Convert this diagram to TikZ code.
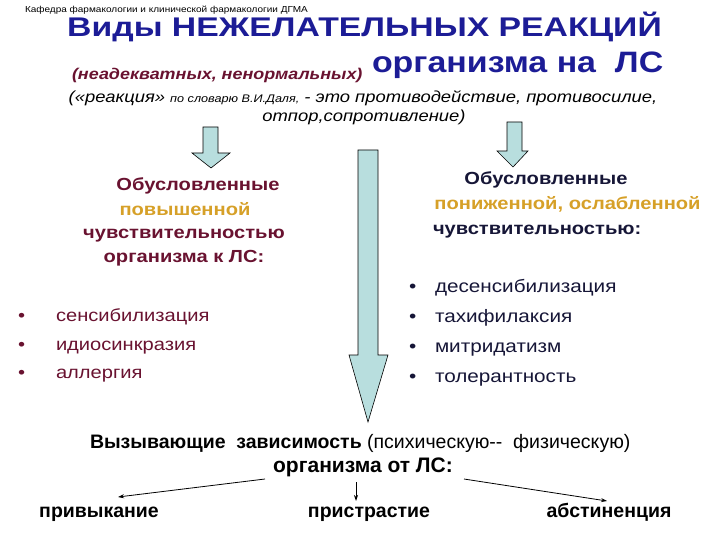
\documentclass[tikz,border=0pt]{standalone}
\usepackage{fontspec}
\setmainfont[FakeStretch=1.15]{Liberation Sans}
\newfontfamily\plainfont{Liberation Sans}
\newfontfamily\titlefont[FakeStretch=1.25]{Liberation Sans}
\definecolor{titleblue}{RGB}{28,28,150}
\definecolor{maroon}{RGB}{105,18,48}
\definecolor{gold}{RGB}{214,160,40}
\definecolor{navy}{RGB}{22,22,55}
\definecolor{arrowfill}{RGB}{184,222,222}
\usetikzlibrary{arrows.meta}
\tikzset{
  bigarrow/.style={draw=black, line width=0.6pt, fill=arrowfill, line join=miter},
  txt/.style={inner sep=0pt, outer sep=0pt, anchor=base},
  lhead/.style={txt, font=\bfseries\fontsize{17.5}{20}\selectfont, text=maroon},
  rhead/.style={txt, font=\bfseries\fontsize{17.5}{20}\selectfont, text=navy},
  lbul/.style={txt, anchor=base west, font=\fontsize{17.5}{20}\selectfont, text=maroon},
  rbul/.style={txt, anchor=base west, font=\fontsize{18}{20}\selectfont, text=navy},
  bottom/.style={txt, font=\plainfont\bfseries\fontsize{19.5}{22}\selectfont, text=black},
  conn/.style={-{Stealth[length=6pt,width=4pt]}, line width=0.8pt}
}
\begin{document}
\begin{tikzpicture}[x=1pt,y=-1pt]
\useasboundingbox (0,0) rectangle (720,540);
% header
\node[txt, anchor=base west, font=\fontsize{8.7}{10}\selectfont] (hdr) at (25,12.5) {Кафедра фармакологии и клинической фармакологии ДГМА};
% title
\node[txt, font=\titlefont\bfseries\fontsize{27}{30}\selectfont, text=titleblue] (title) at (364.5,37) {Виды НЕЖЕЛАТЕЛЬНЫХ РЕАКЦИЙ};
\node[txt, anchor=base west, font=\bfseries\itshape\fontsize{15.6}{18}\selectfont, text=maroon] (sub) at (72,79.5) {(неадекватных, ненормальных)};
\node[txt, anchor=base west, font=\bfseries\fontsize{29.5}{32}\selectfont, text=titleblue] (org) at (372,72.5) {организма на\ \ ЛС};
\node[txt, font=\itshape\fontsize{16}{19}\selectfont] (def1) at (363,103) {(«реакция» {\fontsize{11}{13}\selectfont по словарю В.И.Даля,} - это противодействие, противосилие,};
\node[txt, font=\itshape\fontsize{16}{19}\selectfont] (def2) at (364,122) {отпор,сопротивление)};
% arrows
\draw[bigarrow] (203,127) -- (218,127) -- (218,153) -- (230,153) -- (211,168) -- (192,153) -- (203,153) -- cycle;
\draw[bigarrow] (507,122) -- (522,122) -- (522,151) -- (528,151) -- (513,167) -- (497,151) -- (507,151) -- cycle;
\draw[bigarrow] (358,150) -- (378,150) -- (378,355) -- (388,355) -- (368,422) -- (349,355) -- (358,355) -- cycle;
% left block
\node[lhead] (l1) at (198,191) {Обусловленные};
\node[lhead, text=gold] (l2) at (185,215) {повышенной};
\node[lhead] (l3) at (184,238) {чувствительностью};
\node[lhead] (l4) at (184,262) {организма к ЛС:};
% right block
\node[rhead] (r1) at (546,185) {Обусловленные};
\node[rhead, text=gold] (r2) at (567.5,210) {пониженной, ослабленной};
\node[rhead, anchor=base west] (r3) at (433,235) {чувствительностью:};
% left bullets
\node[lbul] (b1) at (18,321) {•};
\node[lbul] (lb1) at (56,321) {сенсибилизация};
\node[lbul] (b2) at (18,350) {•};
\node[lbul] (lb2) at (56,350) {идиосинкразия};
\node[lbul] (b3) at (18,378) {•};
\node[lbul] (lb3) at (56,378) {аллергия};
% right bullets
\node[rbul] (c1) at (409,292) {•};
\node[rbul] (rb1) at (435,292) {десенсибилизация};
\node[rbul] (c2) at (409,322) {•};
\node[rbul] (rb2) at (435,322) {тахифилаксия};
\node[rbul] (c3) at (409,352) {•};
\node[rbul] (rb3) at (435,352) {митридатизм};
\node[rbul] (c4) at (409,382) {•};
\node[rbul] (rb4) at (435,382) {толерантность};
% bottom
\node[bottom, anchor=base west] (dep) at (90,448) {Вызывающие\ \ зависимость {\mdseries (психическую--\ \ физическую)}};
\node[bottom, font=\plainfont\bfseries\fontsize{21}{24}\selectfont] (orgls) at (363,472) {организма от ЛС:};
\node[bottom] (p1) at (99,517) {привыкание};
\node[bottom] (p2) at (369,517) {пристрастие};
\node[bottom] (p3) at (609,517) {абстиненция};
\coordinate (s1) at (265,479);
\coordinate (s2) at (356,482);
\coordinate (s3) at (464,479);
\coordinate (e1) at (118,497);
\coordinate (e2) at (356,501);
\coordinate (e3) at (607,501);
\draw[conn] (s1) -- (e1);
\draw[conn] (s2) -- (e2);
\draw[conn] (s3) -- (e3);
\end{tikzpicture}
\end{document}
